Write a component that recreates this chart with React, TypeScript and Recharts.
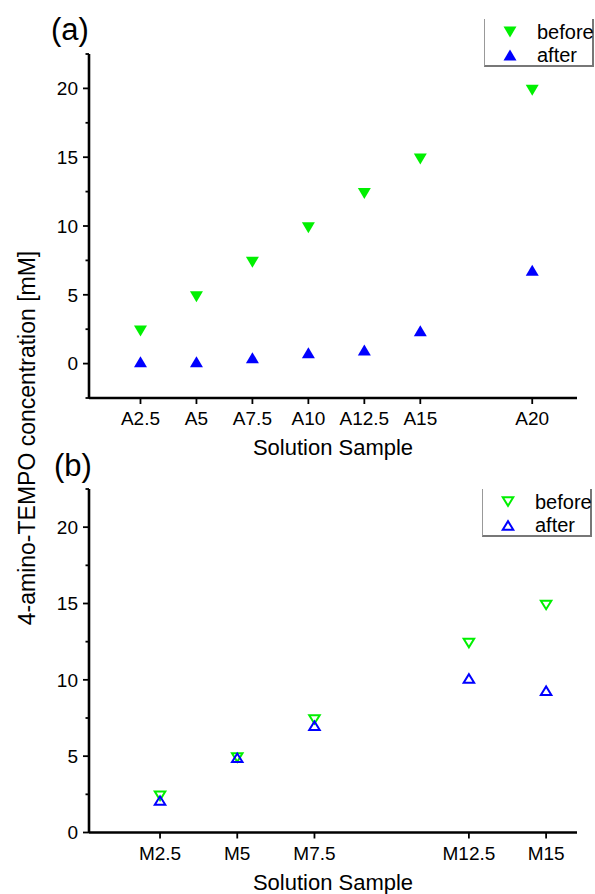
import type { FC } from 'react'
import { Legend, Scatter, ScatterChart, XAxis, YAxis } from 'recharts'

const FONT = '"Liberation Sans", Arial, sans-serif'
const GREEN = '#00f000'
const BLUE = '#0000ff'

// panel (a)
const aSamples = [2.5, 5, 7.5, 10, 12.5, 15, 20]
const aTickLabels = ['A2.5', 'A5', 'A7.5', 'A10', 'A12.5', 'A15', 'A20']
const aBefore = [2.5, 5, 7.5, 10, 12.5, 15, 20]
const aAfter = [0, 0, 0.3, 0.65, 0.85, 2.25, 6.65]

// panel (b)
const mSamples = [2.5, 5, 7.5, 12.5, 15]
const mTickLabels = ['M2.5', 'M5', 'M7.5', 'M12.5', 'M15']
const mBefore = [2.5, 5, 7.5, 12.5, 15]
const mAfter = [2.0, 4.8, 6.9, 10.0, 9.2]

const aYTicks = [-2.5, 0, 2.5, 5, 7.5, 10, 12.5, 15, 17.5, 20, 22.5]
const mYTicks = [0, 2.5, 5, 7.5, 10, 12.5, 15, 17.5, 20, 22.5]

const toPoints = (xs: number[], ys: number[]) => xs.map((x, i) => ({ x, y: ys[i] }))

const triPoints = (cx: number, cy: number, dir: 'up' | 'down', w: number, h: number) =>
  dir === 'down'
    ? `${cx - w / 2},${cy - h / 3} ${cx + w / 2},${cy - h / 3} ${cx},${cy + (2 * h) / 3}`
    : `${cx - w / 2},${cy + h / 3} ${cx + w / 2},${cy + h / 3} ${cx},${cy - (2 * h) / 3}`

const filledTri = (dir: 'up' | 'down', color: string) => (props: any) =>
  <polygon points={triPoints(props.cx, props.cy, dir, 13, 11)} fill={color} />

const openTri = (dir: 'up' | 'down', color: string) => (props: any) =>
  <polygon points={triPoints(props.cx, props.cy, dir, 10.5, 8.5)} fill="none" stroke={color} strokeWidth={2} />

const YTick = (props: any) => {
  const { x, y, payload } = props
  const v = payload.value as number
  const major = v % 5 === 0
  return (
    <g>
      <line x1={x} x2={x - (major ? 6 : 3.5)} y1={y} y2={y} stroke="#000" strokeWidth={1.8} />
      {major && (
        <text x={x - 11} y={y} dy="0.36em" textAnchor="end" fontSize={19} fontFamily={FONT} fill="#000">
          {v}
        </text>
      )}
    </g>
  )
}

// x tick: text only, the tick line is drawn by the axis
const XTick = (labels: string[], values: number[]) => (props: any) => {
  const { x, y, payload } = props
  const i = values.indexOf(payload.value)
  return (
    <text x={x} y={y} dy="0.72em" textAnchor="middle" fontSize={19} fontFamily={FONT} fill="#000">
      {labels[i] ?? ''}
    </text>
  )
}

type LegendProps = { open: boolean }

const LegendBox: FC<LegendProps> = ({ open }) => {
  const row = (label: string, dir: 'up' | 'down', color: string, top: number) => (
    <div style={{ position: 'absolute', left: 0, top, height: 24, width: 110 }}>
      <svg width={50} height={24} style={{ position: 'absolute', left: 0, top: 0 }}>
        <polygon
          points={triPoints(25, dir === 'down' ? 12 - 11 / 6 : 12 + 11 / 6, dir, open ? 10.5 : 13, open ? 8.5 : 11)}
          fill={open ? 'none' : color}
          stroke={open ? color : 'none'}
          strokeWidth={2}
        />
      </svg>
      <span style={{ position: 'absolute', left: 52, top: 0, lineHeight: '24px', fontSize: 20, fontFamily: FONT, color: '#000' }}>
        {label}
      </span>
    </div>
  )
  return (
    <div
      style={{
        position: 'relative',
        width: 110,
        height: 48,
        boxSizing: 'border-box',
        borderLeft: '1px solid #999',
        borderRight: '2px solid #777',
        borderBottom: '2px solid #777',
      }}
    >
      {row('before', 'down', GREEN, 1)}
      {row('after', 'up', BLUE, 24)}
    </div>
  )
}

const axisLine = { stroke: '#000', strokeWidth: 2.6 }
const tickLine = { stroke: '#000', strokeWidth: 1.8 }
const titleStyle = { fontSize: 22, fontFamily: FONT, fill: '#000' }

const App: FC = () => {
  const aBeforeData = toPoints(aSamples, aBefore)
  const aAfterData = toPoints(aSamples, aAfter)
  const mBeforeData = toPoints(mSamples, mBefore)
  const mAfterData = toPoints(mSamples, mAfter)

  return (
    <div style={{ position: 'absolute', left: 0, top: 0, width: 595, height: 894, background: '#fff' }}>
      <div style={{ position: 'absolute', left: 0, top: 0 }}>
        <ScatterChart width={595} height={470} margin={{ top: 54, right: 18, bottom: 42, left: 29 }}>
          <XAxis
            type="number"
            dataKey="x"
            domain={[0.2, 22]}
            ticks={aSamples}
            height={30}
            stroke="#000"
            axisLine={axisLine}
            tickLine={tickLine}
            tickSize={6}
            tickMargin={7}
            tick={XTick(aTickLabels, aSamples)}
            interval={0}
            label={{ value: 'Solution Sample', position: 'bottom', offset: 11, style: titleStyle }}
          />
          <YAxis
            type="number"
            dataKey="y"
            domain={[-2.5, 22.5]}
            ticks={aYTicks}
            width={60}
            stroke="#000"
            axisLine={axisLine}
            tickLine={false}
            tickSize={0}
            tickMargin={0}
            tick={<YTick />}
            interval={0}
          />
          <Legend
            layout="horizontal"
            verticalAlign="middle"
            content={() => <LegendBox open={false} />}
            wrapperStyle={{ position: 'absolute', left: 484, top: 19, width: 110, height: 48 }}
          />
          <Scatter name="before" data={aBeforeData} shape={filledTri('down', GREEN)} isAnimationActive={false} />
          <Scatter name="after" data={aAfterData} shape={filledTri('up', BLUE)} isAnimationActive={false} />
        </ScatterChart>
      </div>

      <div style={{ position: 'absolute', left: 0, top: 450 }}>
        <ScatterChart width={595} height={444} margin={{ top: 39, right: 18, bottom: 31.5, left: 29 }}>
          <XAxis
            type="number"
            dataKey="x"
            domain={[0.2, 16]}
            ticks={mSamples}
            height={30}
            stroke="#000"
            axisLine={axisLine}
            tickLine={tickLine}
            tickSize={6}
            tickMargin={8}
            tick={XTick(mTickLabels, mSamples)}
            interval={0}
            label={{ value: 'Solution Sample', position: 'bottom', offset: 12, style: titleStyle }}
          />
          <YAxis
            type="number"
            dataKey="y"
            domain={[0, 22.5]}
            ticks={mYTicks}
            width={60}
            stroke="#000"
            axisLine={axisLine}
            tickLine={false}
            tickSize={0}
            tickMargin={0}
            tick={<YTick />}
            interval={0}
          />
          <Legend
            layout="horizontal"
            verticalAlign="middle"
            content={() => <LegendBox open />}
            wrapperStyle={{ position: 'absolute', left: 482, top: 39, width: 113, height: 48 }}
          />
          <Scatter name="before" data={mBeforeData} shape={openTri('down', GREEN)} isAnimationActive={false} />
          <Scatter name="after" data={mAfterData} shape={openTri('up', BLUE)} isAnimationActive={false} />
        </ScatterChart>
      </div>

      <svg width={595} height={894} style={{ position: 'absolute', left: 0, top: 0, pointerEvents: 'none' }}>
        <text x={51} y={39.5} fontSize={31} fontFamily={FONT} fill="#000">(a)</text>
        <text x={54} y={476} fontSize={31} fontFamily={FONT} fill="#000">(b)</text>
        <text transform="translate(35,438) rotate(-90)" textAnchor="middle" fontSize={23} fontFamily={FONT} fill="#000">
          4-amino-TEMPO concentration [mM]
        </text>
      </svg>
    </div>
  )
}

export default App
